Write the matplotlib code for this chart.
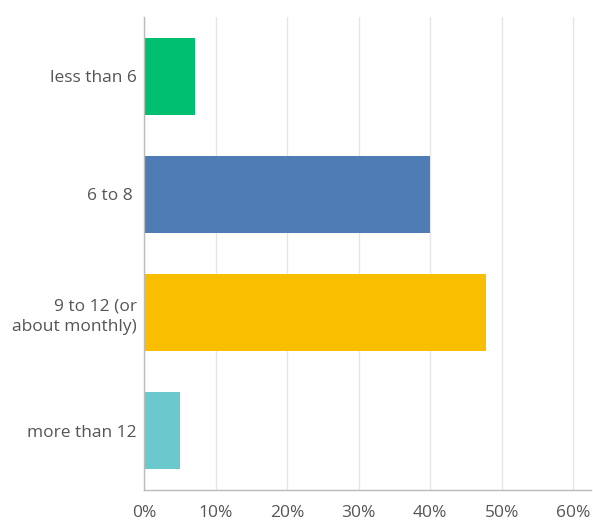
import matplotlib
matplotlib.use("Agg")
import matplotlib.pyplot as plt

categories = ["less than 6", "6 to 8 ", "9 to 12 (or\nabout monthly)", "more than 12"]
values = [7.1, 40.0, 47.8, 5.0]
colors = ["#00BF6F", "#507CB6", "#F9BE00", "#6BC8CD"]
xticks = [0, 10, 20, 30, 40, 50, 60]
xticklabels = ["0%", "10%", "20%", "30%", "40%", "50%", "60%"]

plt.rcParams['font.family'] = ['Open Sans', 'DejaVu Sans']
fig = plt.figure(figsize=(5.93, 5.23), dpi=100)
ax = fig.add_axes([144/593, 1-490/523, (591-144)/593, (490-17)/523])

ypos = list(range(len(categories)))
ax.barh(ypos, values, height=0.65, color=colors, zorder=3)
ax.set_ylim(3.5, -0.5)
ax.set_xlim(0, 62.5)
ax.set_yticks(ypos)
ax.set_yticklabels(categories, fontsize=12.5, color="#555555", linespacing=1.35)
ax.set_xticks(xticks)
ax.set_xticklabels(xticklabels, fontsize=12.5, color="#555555")
ax.tick_params(axis="both", length=0)
ax.tick_params(axis="y", pad=5)
ax.tick_params(axis="x", pad=11)
for lbl in ax.get_yticklabels():
    lbl.set_horizontalalignment("right")
    lbl.set_multialignment("right")
ax.grid(axis="x", color="#E6E6E6", linewidth=1, zorder=0)
for s in ["top", "right"]:
    ax.spines[s].set_visible(False)
for s in ["left", "bottom"]:
    ax.spines[s].set_color("#BBBBBB")
    ax.spines[s].set_linewidth(1)
    ax.spines[s].set_zorder(4)

fig.savefig("out.png", dpi=100, facecolor="white")
